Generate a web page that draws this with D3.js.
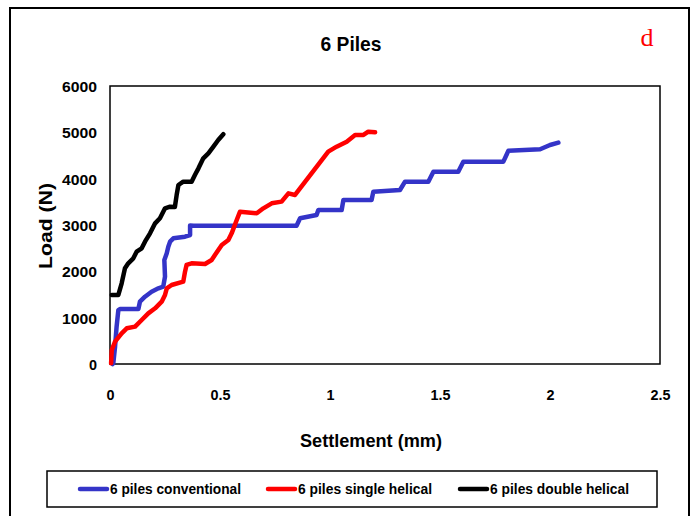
<!DOCTYPE html>
<html><head><meta charset="utf-8">
<script src="https://cdn.jsdelivr.net/npm/d3@7"></script>
<style>
html,body{margin:0;padding:0;background:#fff;}
text{font-family:"Liberation Sans Narrow","Arial Narrow","Liberation Sans",sans-serif;font-weight:bold;}
</style></head>
<body><svg id="c" width="693" height="516"></svg>
<script>
const title = "6 Piles";
const panelLabel = "d";
const xLabel = "Settlement (mm)";
const yLabel = "Load (N)";
const xTicks = [0, 0.5, 1, 1.5, 2, 2.5];
const yTicks = [0, 1000, 2000, 3000, 4000, 5000, 6000];
const seriesNames = ["6 piles conventional", "6 piles single helical", "6 piles double helical"];
const seriesColors = ["#3434C8", "#FF0000", "#000000"];

const conventional = [
 [0.012,0],[0.015,15],[0.023,374],[0.030,806],[0.038,1165],[0.045,1187],[0.129,1187],[0.136,1345],[0.159,1453],
 [0.189,1561],[0.220,1633],[0.242,1669],[0.250,1885],[0.247,2245],[0.258,2389],[0.265,2532],[0.273,2640],
 [0.288,2712],[0.341,2748],[0.364,2784],[0.364,2990],[0.380,2985],[0.600,2985],[0.848,2985],[0.864,3145],
 [0.939,3216],[0.947,3324],[1.053,3324],[1.061,3540],[1.152,3540],[1.189,3540],[1.197,3720],[1.318,3756],
 [1.341,3935],[1.447,3935],[1.470,4151],[1.583,4151],[1.606,4367],[1.788,4367],[1.811,4604],[1.955,4634],
 [2.000,4727],[2.038,4777]
];
const singleHelical = [
 [0.005,15],[0.008,302],[0.023,482],[0.053,662],[0.076,770],[0.114,806],[0.144,950],[0.174,1094],[0.205,1202],
 [0.235,1345],[0.250,1489],[0.258,1633],[0.280,1705],[0.333,1777],[0.341,1993],[0.348,2137],[0.371,2173],
 [0.432,2158],[0.462,2245],[0.477,2353],[0.508,2569],[0.538,2676],[0.553,2820],[0.576,3108],[0.591,3288],
 [0.667,3252],[0.697,3360],[0.735,3468],[0.780,3504],[0.811,3684],[0.841,3648],[0.992,4583],[1.030,4691],
 [1.076,4799],[1.114,4943],[1.152,4943],[1.174,5015],[1.205,5000]
];
const doubleHelical = [
 [0.008,1489],[0.038,1490],[0.053,1742],[0.068,2065],[0.083,2173],[0.106,2281],[0.121,2424],[0.144,2497],
 [0.159,2640],[0.182,2820],[0.205,3036],[0.227,3145],[0.250,3360],[0.273,3396],[0.295,3390],[0.303,3648],
 [0.311,3863],[0.333,3935],[0.371,3935],[0.386,4079],[0.402,4223],[0.424,4439],[0.447,4547],[0.470,4691],
 [0.492,4835],[0.515,4960]
];
const allSeries = [conventional, singleHelical, doubleHelical];

const svg = d3.select("#c");
const L = 110, R = 660, T = 86, B = 364;
const x = d3.scaleLinear().domain([0, 2.5]).range([L, R]);
const y = d3.scaleLinear().domain([0, 6000]).range([B, T]);

function fit(sel, w) { return sel.attr("textLength", w).attr("lengthAdjust", "spacingAndGlyphs"); }

// outer frame
svg.append("path").attr("d", "M10,520 L10,8 L689,8 L689,520").attr("fill","none").attr("stroke","#000").attr("stroke-width",2);

// title
fit(svg.append("text").attr("x", 351).attr("y", 51).attr("text-anchor","middle").attr("font-size", 21).text(title), 61);
svg.append("text").attr("x", 647).attr("y", 46).attr("text-anchor","middle").attr("font-size", 26)
  .style("font-family","'Liberation Serif','Times New Roman',serif").style("font-weight","normal").attr("fill","#FF0000").text(panelLabel);

// axes
const xAxis = d3.axisBottom(x).tickValues(xTicks).tickSize(0).tickPadding(0).tickFormat(d => String(d));
const gx = svg.append("g").attr("transform", `translate(0,${B})`).call(xAxis);
gx.select(".domain").remove();
gx.selectAll("text").attr("font-size", 15).attr("fill","#000").attr("dy", null).attr("y", 36)
  .each(function(d){ const s = String(d); d3.select(this).attr("textLength", s.length === 1 ? 8 : 20).attr("lengthAdjust","spacingAndGlyphs"); });

const yAxis = d3.axisLeft(y).tickValues(yTicks).tickSize(0).tickPadding(0).tickFormat(d => String(d));
const gy = svg.append("g").attr("transform", `translate(${L},0)`).call(yAxis);
gy.select(".domain").remove();
gy.selectAll("text").attr("font-size", 15).attr("fill","#000").attr("x", -13).attr("dy","0.36em")
  .each(function(d){ const s = String(d); d3.select(this).attr("textLength", s.length === 1 ? 8 : 35).attr("lengthAdjust","spacingAndGlyphs"); });

// plot box
svg.append("rect").attr("x", L).attr("y", T).attr("width", R-L).attr("height", B-T)
  .attr("fill","none").attr("stroke","#000").attr("stroke-width",1.5);

// axis labels
fit(svg.append("text").attr("x", 371).attr("y", 447).attr("text-anchor","middle").attr("font-size", 19).text(xLabel), 142);
fit(svg.append("text").attr("transform", "translate(52,226) rotate(-90)").attr("text-anchor","middle").attr("font-size", 18).text(yLabel), 86);

// lines
const line = d3.line().x(d => x(d[0])).y(d => y(d[1]));
allSeries.forEach((s, i) => {
  svg.append("path").datum(s).attr("d", line).attr("fill","none").attr("stroke", seriesColors[i])
    .attr("stroke-width", 4.5).attr("stroke-linejoin","round").attr("stroke-linecap","round");
});

// legend
svg.append("rect").attr("x", 47).attr("y", 471).attr("width", 610).attr("height", 36)
  .attr("fill","#fff").attr("stroke","#000").attr("stroke-width",1.5);
const legX = [80, 268, 460];
const legW = [131, 134, 139];
seriesNames.forEach((n, i) => {
  svg.append("line").attr("x1", legX[i]).attr("x2", legX[i]+27).attr("y1", 489).attr("y2", 489)
    .attr("stroke", seriesColors[i]).attr("stroke-width", 4.5).attr("stroke-linecap","round");
  fit(svg.append("text").attr("x", legX[i]+30).attr("y", 494).attr("font-size", 15).text(n), legW[i]);
});
</script></body></html>
